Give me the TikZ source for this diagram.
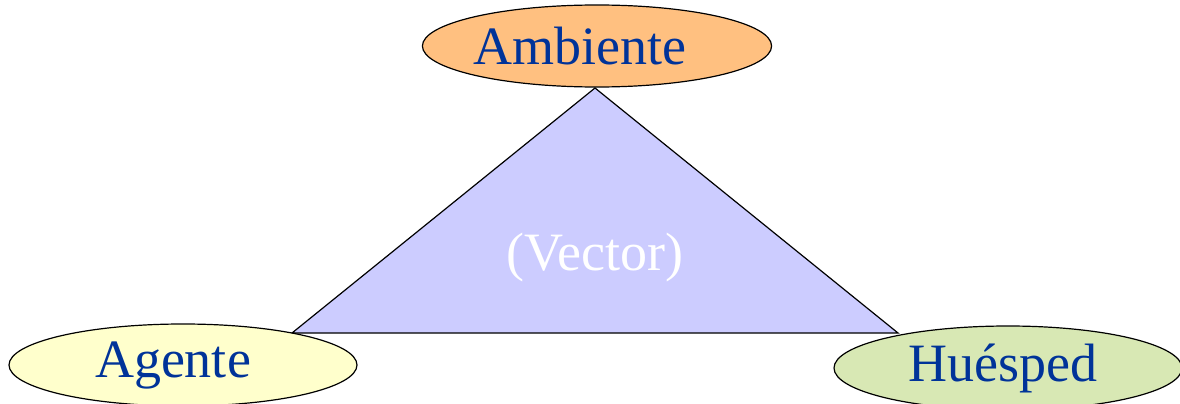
\documentclass[tikz,border=0pt]{standalone}
\usepackage{fontspec}
\setmainfont{Liberation Serif}
\usetikzlibrary{shapes.geometric, positioning, calc}

\definecolor{textblue}{RGB}{0,51,153}
\definecolor{ambfill}{RGB}{255,192,128}
\definecolor{agefill}{RGB}{255,255,204}
\definecolor{huefill}{RGB}{216,232,180}
\definecolor{vecfill}{RGB}{204,204,255}

\begin{document}
\begin{tikzpicture}[
  x=1pt, y=-1pt,
  factor/.style={ellipse, draw, line width=1.2pt, minimum width=348pt, minimum height=82pt, inner sep=0pt, font=\fontsize{54}{60}\selectfont, text=textblue},
  side/.style={draw, line width=1.2pt, fill=vecfill, line join=miter}
]
\useasboundingbox (0,0) rectangle (1180,404);

% triangle corners
\coordinate (top) at (595,88);
\coordinate (left) at (292,333);
\coordinate (right) at (898,333);

\draw [side] (top) -- (left) -- (right) -- cycle;
\node (vector) at (595,258) [font=\fontsize{54}{60}\selectfont, text=white] {(Vector)};

\node (ambiente) at (597,46) [factor, fill=ambfill] {Ambiente\kern34pt};
\node (agente) at (183,365) [factor, fill=agefill] {Agente\kern20pt};
\node (huesped) at (1008,368) [factor, fill=huefill, minimum height=84pt] {\raisebox{-4pt}{Huésped}\kern10pt};

\end{tikzpicture}
\end{document}
